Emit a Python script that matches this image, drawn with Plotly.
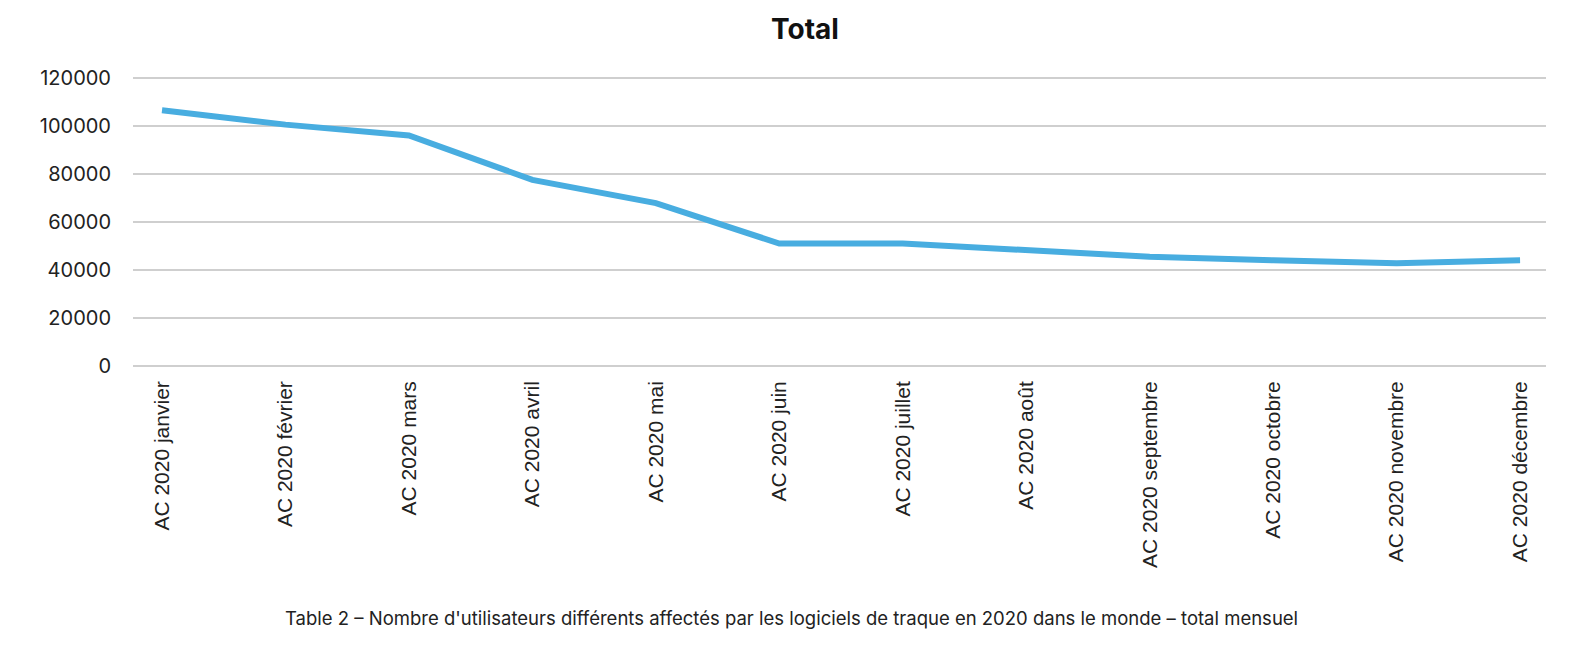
import plotly.graph_objects as go

months = ["AC 2020 janvier", "AC 2020 février", "AC 2020 mars", "AC 2020 avril",
          "AC 2020 mai", "AC 2020 juin", "AC 2020 juillet", "AC 2020 août",
          "AC 2020 septembre", "AC 2020 octobre", "AC 2020 novembre", "AC 2020 décembre"]
totals = [106500, 100500, 96000, 77500, 67800, 51000, 51000, 48000, 45500, 44000, 42800, 44000]
y_ticks = [0, 20000, 40000, 60000, 80000, 100000, 120000]

fig = go.Figure()
fig.add_trace(go.Scatter(
    x=list(range(len(months))), y=totals, mode="lines",
    line=dict(color="#48ade0", width=6),
))

fig.update_layout(
    width=1594, height=657,
    paper_bgcolor="white", plot_bgcolor="white",
    margin=dict(l=125, r=56, t=65, b=299, autoexpand=False),
    showlegend=False,
    title=dict(text="<b>Total</b>", x=0.5, xanchor="center", y=0.968, yanchor="middle",
               font=dict(family="Inter", size=28, color="#111111")),
    xaxis=dict(
        tickmode="array", tickvals=list(range(len(months))), ticktext=months,
        tickangle=-90, range=[-0.235, 11.21], automargin=False,
        showgrid=False, zeroline=False, showline=False, ticks="",
        ticklabelstandoff=10,
        tickfont=dict(family="Liberation Sans", size=21, color="#222222"),
    ),
    yaxis=dict(
        range=[0, 122000], tickvals=y_ticks, tickformat="d", automargin=False,
        showgrid=True, gridcolor="#cfcfcf", gridwidth=1.5,
        zeroline=True, zerolinecolor="#cfcfcf", zerolinewidth=1.5,
        showline=False, ticks="", ticklabelstandoff=21,
        tickfont=dict(family="Inter", size=20, color="#222222"),
    ),
    annotations=[dict(
        text="Table 2 – Nombre d'utilisateurs différents affectés par les logiciels de traque en 2020 dans le monde – total mensuel",
        xref="paper", yref="paper", x=0.4657, y=-0.8616, xanchor="center", yanchor="middle",
        showarrow=False, font=dict(family="Inter", size=18.5, color="#222222"),
    )],
)

fig.write_html("out.html")
